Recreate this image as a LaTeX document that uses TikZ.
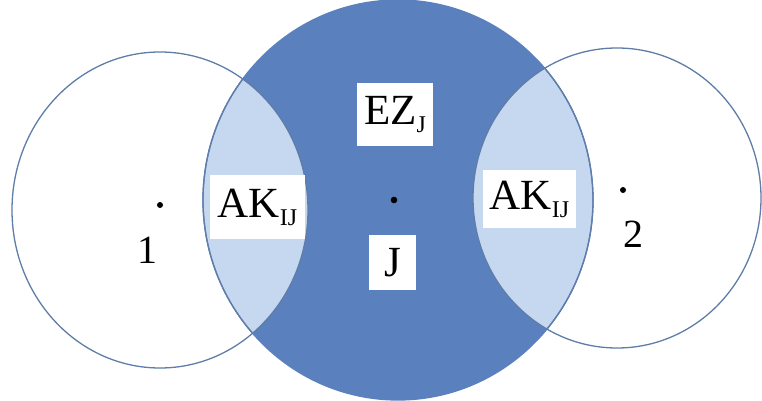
\documentclass[tikz,border=0pt]{standalone}
\usepackage{fontspec}
\setmainfont{Liberation Serif}
\definecolor{darkblue}{HTML}{5B80BE}
\definecolor{lightblue}{HTML}{C6D8F0}
\definecolor{rimblue}{HTML}{5E7DA8}
\newcommand{\lowsub}[1]{\raisebox{-8pt}{\fontsize{24}{24}\selectfont #1}}
\tikzset{
  rim/.style={draw=rimblue, line width=1.3pt},
  labelbox/.style={fill=white, inner sep=0pt, text=black, font=\fontsize{43}{46}\selectfont, align=center},
  plainlabel/.style={inner sep=0pt, text=black, font=\fontsize{40}{44}\selectfont},
  centerdot/.style={fill=black}
}
\begin{document}
\begin{tikzpicture}[x=1pt,y=-1pt]
\useasboundingbox (0,0) rectangle (762,401);
% middle circle
\fill[darkblue] (398,200) ellipse [x radius=195, y radius=200];
% lenses
\begin{scope}
  \clip (398,200) ellipse [x radius=195, y radius=200];
  \fill[lightblue] (160,210) ellipse [x radius=148, y radius=158];
  \fill[lightblue] (617,198) ellipse [x radius=144, y radius=150];
\end{scope}
% outlines
\draw[rim] (160,210) ellipse [x radius=148, y radius=158];
\draw[rim] (617,198) ellipse [x radius=144, y radius=150];
\draw[rim, draw=darkblue] (398,200) ellipse [x radius=195, y radius=200];
\begin{scope}
  \clip (160,210) ellipse [x radius=148, y radius=158];
  \draw[rim] (398,200) ellipse [x radius=195, y radius=200];
\end{scope}
\begin{scope}
  \clip (617,198) ellipse [x radius=144, y radius=150];
  \draw[rim] (398,200) ellipse [x radius=195, y radius=200];
\end{scope}
% dots
\fill[centerdot] (160,205) circle [radius=3];
\fill[centerdot] (394,200) circle [radius=3.3];
\fill[centerdot] (623,190) circle [radius=3];
% labels
\node[labelbox, minimum width=76pt, minimum height=63pt] (ez) at (395,114.5) {EZ\lowsub{J}};
\node[labelbox, minimum width=95pt, minimum height=64pt] (akl) at (257.5,207) {AK\lowsub{IJ}};
\node[labelbox, minimum width=47pt, minimum height=55pt] (j) at (392.5,262.5) {J};
\node[labelbox, minimum width=93pt, minimum height=58pt] (akr) at (529.5,199) {AK\lowsub{IJ}};
\node[plainlabel] (one) at (147,250) {1};
\node[plainlabel] (two) at (633,234) {2};
\end{tikzpicture}
\end{document}
